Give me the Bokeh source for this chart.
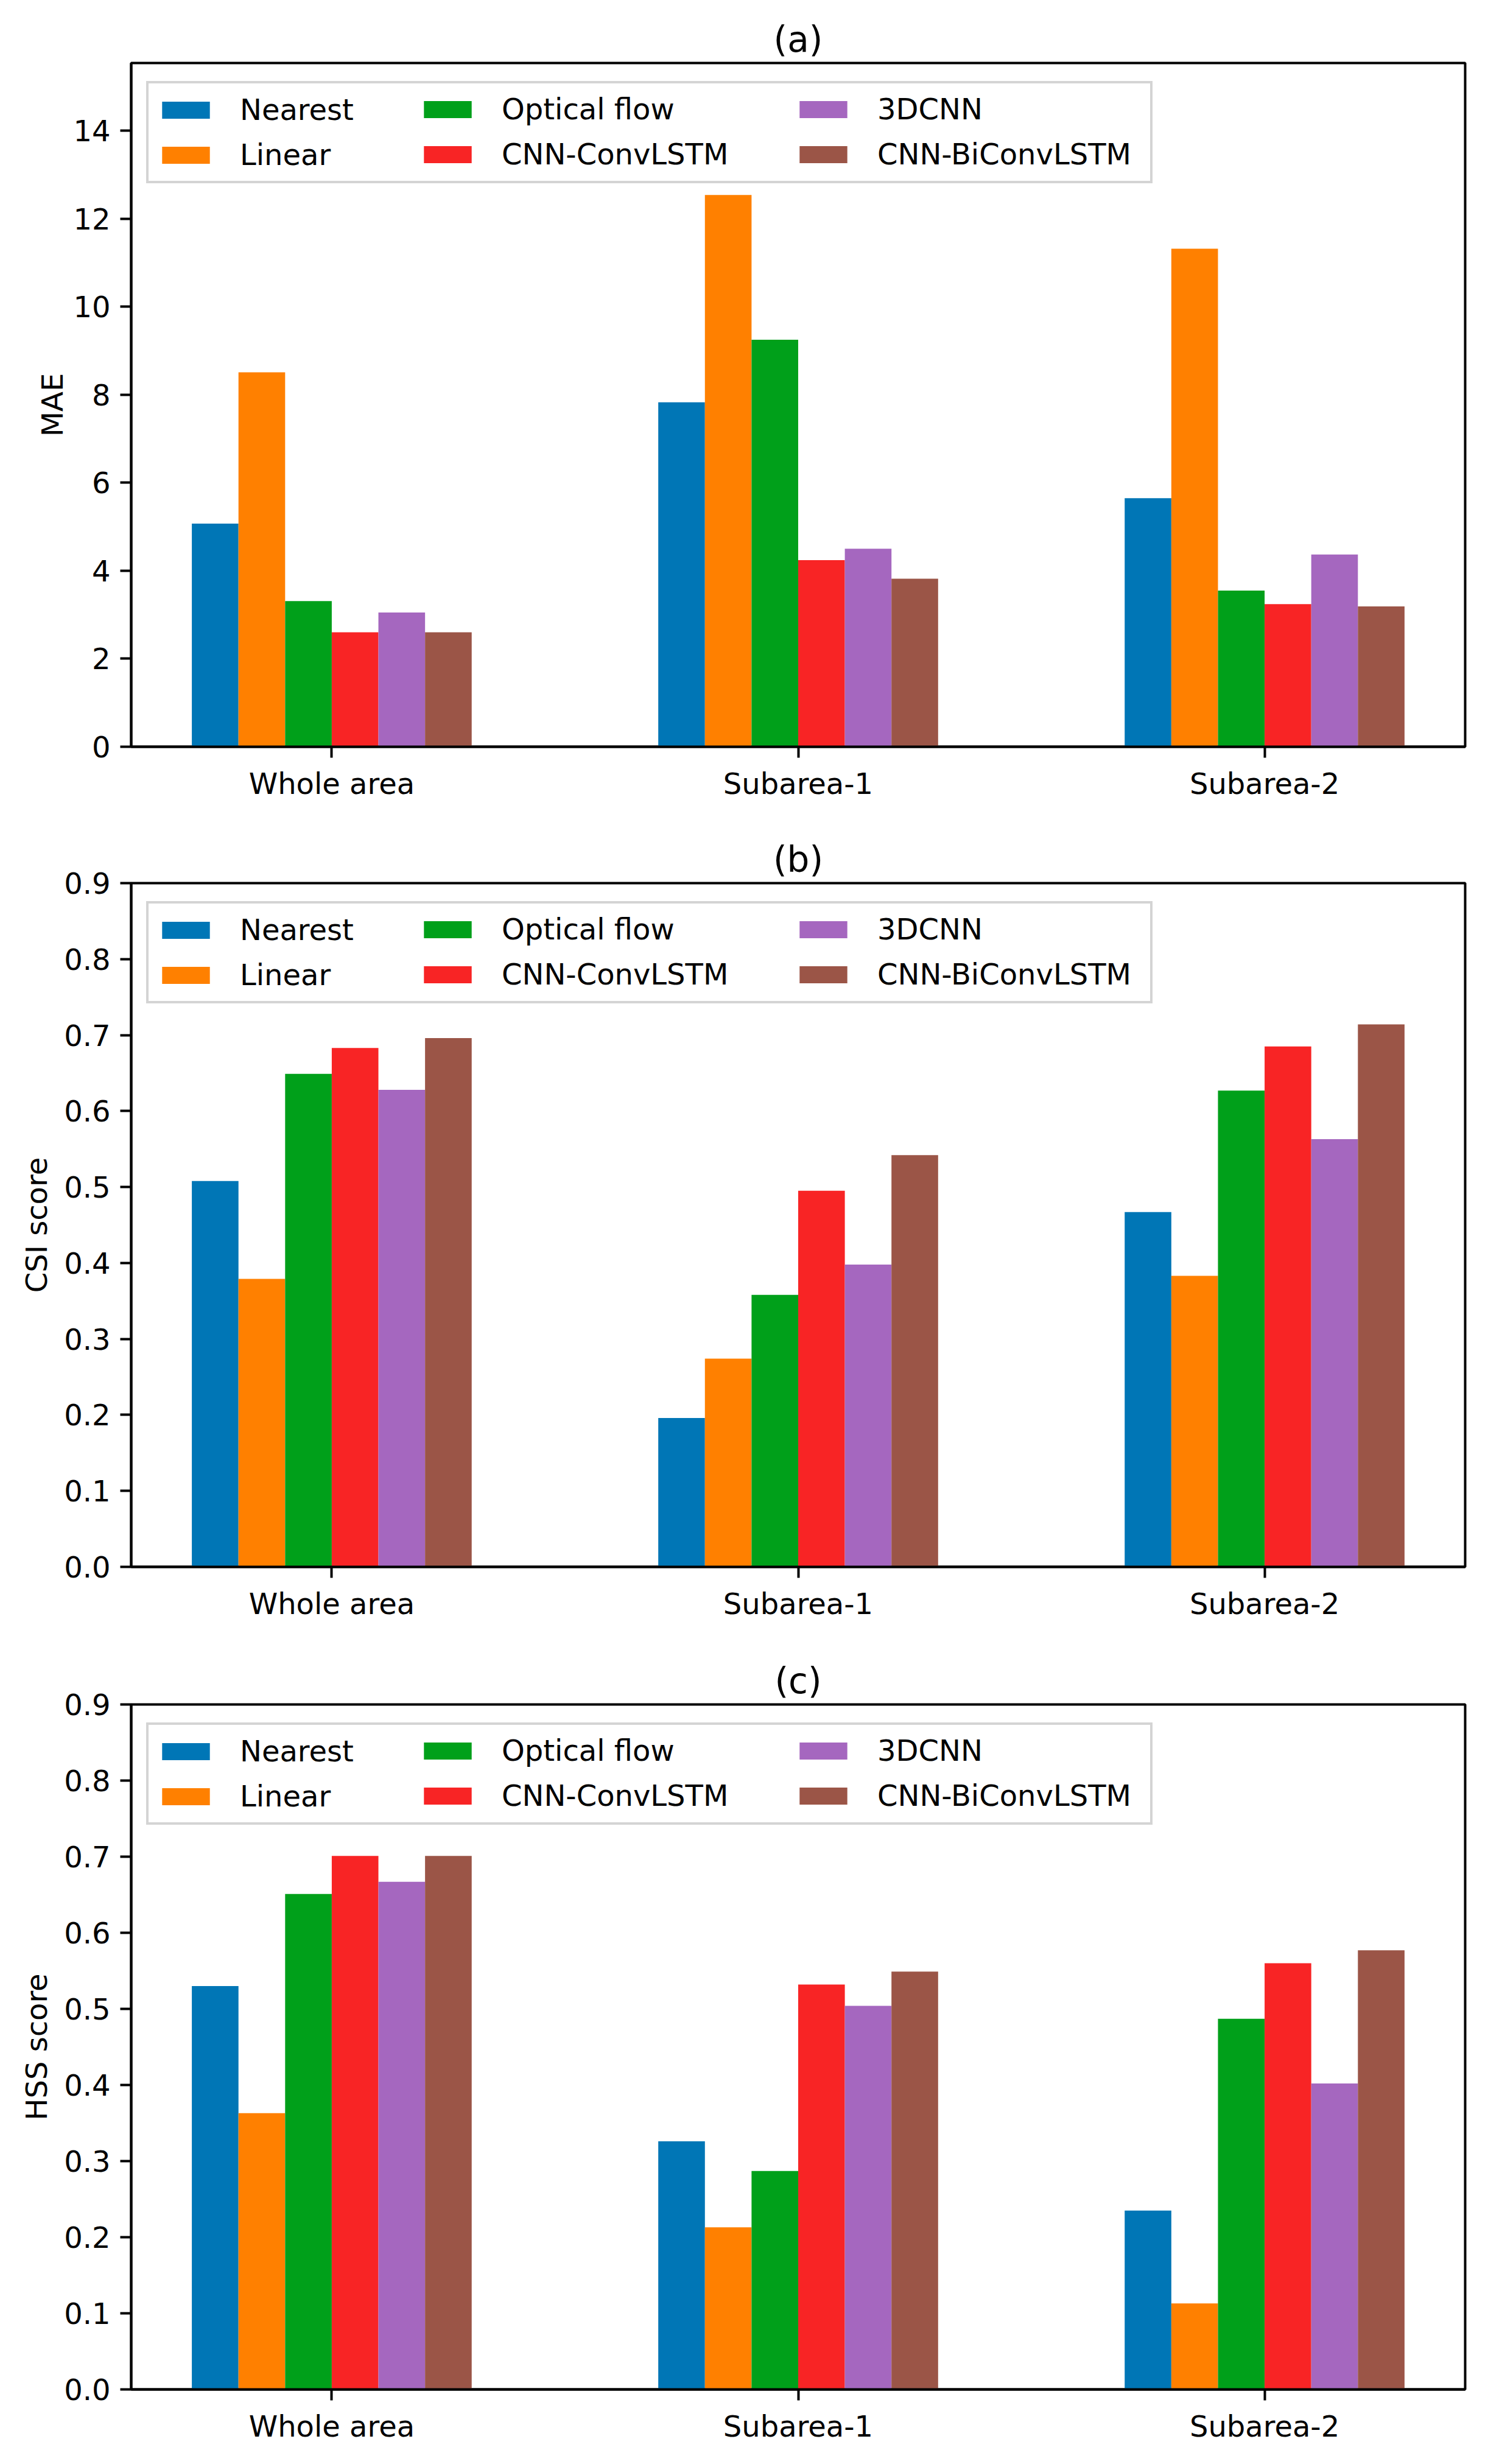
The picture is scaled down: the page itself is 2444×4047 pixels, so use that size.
from bokeh.plotting import figure
from bokeh.layouts import column
from bokeh.models import Range1d, FixedTicker, Legend, LegendItem, PrintfTickFormatter
from bokeh.embed import file_html
from bokeh.resources import INLINE

regions = ["Whole area", "Subarea-1", "Subarea-2"]
methods = ["Nearest", "Linear", "Optical flow", "CNN-ConvLSTM", "3DCNN", "CNN-BiConvLSTM"]
colors = ["#0076B6", "#FF8000", "#00A01A", "#F82425", "#A567BF", "#9B5547"]

# MAE per method, for Whole area / Subarea-1 / Subarea-2
mae_values = {
    "Nearest":        [5.07, 7.83, 5.65],
    "Linear":         [8.51, 12.54, 11.32],
    "Optical flow":   [3.31, 9.25, 3.55],
    "CNN-ConvLSTM":   [2.60, 4.24, 3.24],
    "3DCNN":          [3.05, 4.50, 4.37],
    "CNN-BiConvLSTM": [2.60, 3.82, 3.19],
}
csi_values = {
    "Nearest":        [0.508, 0.196, 0.467],
    "Linear":         [0.379, 0.274, 0.383],
    "Optical flow":   [0.649, 0.358, 0.627],
    "CNN-ConvLSTM":   [0.683, 0.495, 0.685],
    "3DCNN":          [0.628, 0.398, 0.563],
    "CNN-BiConvLSTM": [0.696, 0.542, 0.714],
}
hss_values = {
    "Nearest":        [0.530, 0.326, 0.235],
    "Linear":         [0.363, 0.213, 0.113],
    "Optical flow":   [0.651, 0.287, 0.487],
    "CNN-ConvLSTM":   [0.701, 0.532, 0.560],
    "3DCNN":          [0.667, 0.504, 0.402],
    "CNN-BiConvLSTM": [0.701, 0.549, 0.577],
}

mae_ticks = [0, 2, 4, 6, 8, 10, 12, 14]
score_ticks = [0.0, 0.1, 0.2, 0.3, 0.4, 0.5, 0.6, 0.7, 0.8, 0.9]

FONT = "DejaVu Sans"
BAR_W = 0.1

# legend geometry (screen px)
LEG_PAD = 12
LEG_ITEM_H = 62
LEG_SPACING = 12
LEG_H = 2 * LEG_PAD + 2 * LEG_ITEM_H + LEG_SPACING
LEG_TOP_GAP = 25
LEG_COL_X = [25, 459, 1076]
LEG_COL_DY = [13, 8, 8]
LEG_TOTAL_W = 1645


def make_panel(title, ylabel, values, ymax, yticks, fmt, min_top, frame_h, min_bottom, label_standoff):
    p = figure(frame_width=2191, frame_height=frame_h,
               x_range=Range1d(-0.43, 2.43), y_range=Range1d(0, ymax),
               output_backend="svg", toolbar_location=None,
               min_border_left=215, min_border_right=22,
               min_border_top=min_top, min_border_bottom=min_bottom,
               background_fill_color="white", border_fill_color="white")
    items = []
    for j, m in enumerate(methods):
        xs = [i + (j - 2.5) * BAR_W for i in range(len(regions))]
        r = p.vbar(x=xs, top=values[m], bottom=0, width=BAR_W,
                   fill_color=colors[j], line_color=None)
        items.append(LegendItem(label=m, renderers=[r]))

    p.title.text = title
    p.title.align = "center"
    p.title.text_font = FONT
    p.title.text_font_size = "58px"
    p.title.text_font_style = "normal"
    p.title.text_color = "black"

    p.xgrid.visible = False
    p.ygrid.visible = False
    p.outline_line_color = "black"
    p.outline_line_width = 4
    p.outline_line_alpha = 1

    p.xaxis.ticker = FixedTicker(ticks=list(range(len(regions))))
    p.xaxis.major_label_overrides = {i: r for i, r in enumerate(regions)}
    p.yaxis.ticker = FixedTicker(ticks=yticks)
    p.yaxis.formatter = PrintfTickFormatter(format=fmt)
    p.yaxis.axis_label = ylabel

    for ax in (p.xaxis, p.yaxis):
        ax.axis_line_width = 4
        ax.axis_line_color = "black"
        ax.major_tick_line_width = 4
        ax.major_tick_line_color = "black"
        ax.major_tick_out = 18
        ax.major_tick_in = 0
        ax.minor_tick_line_color = None
        ax.major_label_text_font = FONT
        ax.major_label_text_font_size = "48px"
        ax.major_label_text_color = "black"
        ax.axis_label_text_font = FONT
        ax.axis_label_text_font_size = "48px"
        ax.axis_label_text_font_style = "normal"
        ax.axis_label_text_color = "black"
    p.xaxis.major_label_standoff = 14
    p.yaxis.major_label_standoff = 16
    p.yaxis.axis_label_standoff = label_standoff

    vy = frame_h - LEG_TOP_GAP - LEG_H
    for c in range(3):
        leg = Legend(items=items[2 * c:2 * c + 2],
                     label_text_font=FONT, label_text_font_size="48px",
                     label_text_color="black", label_height=LEG_ITEM_H,
                     glyph_width=98, glyph_height=35, label_standoff=40,
                     spacing=LEG_SPACING, padding=LEG_PAD, margin=0,
                     location=(LEG_COL_X[c], vy - LEG_COL_DY[c]),
                     label_width=(LEG_TOTAL_W - 2 * LEG_PAD - 98 - 40) if c == 0 else 20,
                     border_line_color="#d4d4d4", border_line_width=4,
                     border_line_alpha=1.0 if c == 0 else 0.0,
                     background_fill_color="white",
                     background_fill_alpha=0.8 if c == 0 else 0.0)
        p.add_layout(leg)
    return p


pa = make_panel("(a)", "MAE", mae_values, 15.54, mae_ticks, "%d", 103, 1123, 110, 3)
pb = make_panel("(b)", "CSI score", csi_values, 0.9, score_ticks, "%.1f", 114, 1123, 110, 14)
pc = make_panel("(c)", "HSS score", hss_values, 0.9, score_ticks, "%.1f", 116, 1125, 100, 14)

layout = column(pa, pb, pc, spacing=0)
open("out.html", "w").write(file_html(layout, INLINE))
